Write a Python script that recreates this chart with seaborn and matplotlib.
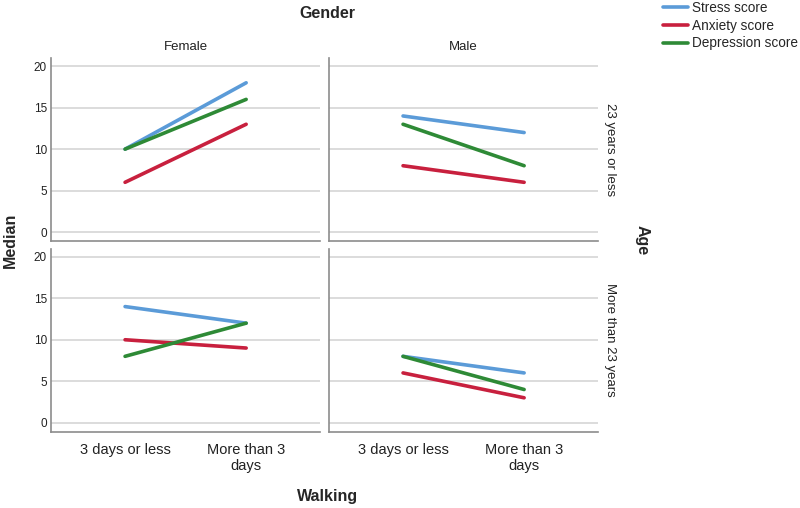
import matplotlib
matplotlib.use("Agg")
import matplotlib.pyplot as plt
import seaborn as sns
import pandas as pd

# ---- data ----
walking = ["3 days or less", "More than 3\ndays"]
genders = ["Female", "Male"]
ages = ["23 years or less", "More than 23 years"]
measures = ["Stress score", "Anxiety score", "Depression score"]

# median values per measure and gender -> (3 days or less, more than 3 days)
stress_young = {"Female": [10, 18], "Male": [14, 12]}
anxiety_young = {"Female": [6, 13], "Male": [8, 6]}
depression_young = {"Female": [10, 16], "Male": [13, 8]}
stress_old = {"Female": [14, 12], "Male": [8, 6]}
anxiety_old = {"Female": [10, 9], "Male": [6, 3]}
depression_old = {"Female": [8, 12], "Male": [8, 4]}

series = {
    ages[0]: dict(zip(measures, [stress_young, anxiety_young, depression_young])),
    ages[1]: dict(zip(measures, [stress_old, anxiety_old, depression_old])),
}

rows = []
for age, by_measure in series.items():
    for measure, by_gender in by_measure.items():
        for gender, vals in by_gender.items():
            for w, v in zip(walking, vals):
                rows.append({"Age": age, "Gender": gender, "Measure": measure,
                             "Walking": w, "Median": v})
df = pd.DataFrame(rows)
df["xpos"] = df["Walking"].map({w: i for i, w in enumerate(walking)})

palette = {"Stress score": "#5B9BD8", "Anxiety score": "#C8203E",
           "Depression score": "#2E8A36"}

sns.set_theme(style="white")
plt.rcParams["font.family"] = ["Liberation Sans", "DejaVu Sans"]

g = sns.relplot(
    data=df, x="xpos", y="Median", hue="Measure", hue_order=measures,
    col="Gender", row="Age", col_order=genders, row_order=ages,
    kind="line", palette=palette, linewidth=2.6, legend=False,
    facet_kws=dict(sharex=True, sharey=True, margin_titles=False),
)
fig = g.figure
fig.set_size_inches(8, 5.08)
fig.set_dpi(100)
fig.subplots_adjust(left=0.064, right=0.7475, top=0.886, bottom=0.150,
                    wspace=0.034, hspace=0.04)

for r, age in enumerate(ages):
    for c, gender in enumerate(genders):
        ax = g.axes[r, c]
        ax.set_title("")
        ax.set_xlabel("")
        ax.set_ylabel("")
        ax.set_xlim(-0.61, 1.61)
        ax.set_ylim(-1.1, 21)
        ax.set_yticks([0, 5, 10, 15, 20])
        ax.grid(axis="y", color="#D2D2D2", linewidth=1.1)
        ax.set_axisbelow(True)
        for side in ["top", "right"]:
            ax.spines[side].set_visible(False)
        for side in ["left", "bottom"]:
            ax.spines[side].set_color("#8C8C8C")
            ax.spines[side].set_linewidth(1.2)
        ax.tick_params(length=0, labelsize=8.5, colors="#222222", pad=3)
        ax.set_xticks([0, 1])
        if r == 1:
            ax.set_xticklabels(walking, fontsize=10.5, linespacing=1.15)
            ax.tick_params(axis="x", pad=8)
        else:
            ax.tick_params(axis="x", labelbottom=False)
        if c == 1:
            ax.tick_params(axis="y", labelleft=False)
        if r == 0:
            ax.set_title(gender, fontsize=9.5, pad=6, color="#222222")
        if c == 1:
            ax.text(1.045, 0.5, age, transform=ax.transAxes, rotation=-90,
                    ha="center", va="center", fontsize=9.5, color="#222222")

fig.text(0.409, 0.974, "Gender", ha="center", va="center",
         fontsize=11.5, fontweight="bold")
fig.text(0.409, 0.022, "Walking", ha="center", va="center",
         fontsize=11.5, fontweight="bold")
fig.text(0.013, 0.527, "Median", ha="center", va="center", rotation=90,
         fontsize=11.5, fontweight="bold")
fig.text(0.802, 0.527, "Age", ha="center", va="center", rotation=-90,
         fontsize=11.5, fontweight="bold")

handles = [plt.Line2D([], [], color=palette[m], linewidth=2.6) for m in measures]
fig.legend(handles, measures, loc="upper left", bbox_to_anchor=(0.822, 1.009),
           frameon=False, fontsize=9.8, handlelength=1.8, handletextpad=0.3,
           labelspacing=0.28, borderaxespad=0)

fig.savefig("out.png", dpi=100, facecolor="white")
